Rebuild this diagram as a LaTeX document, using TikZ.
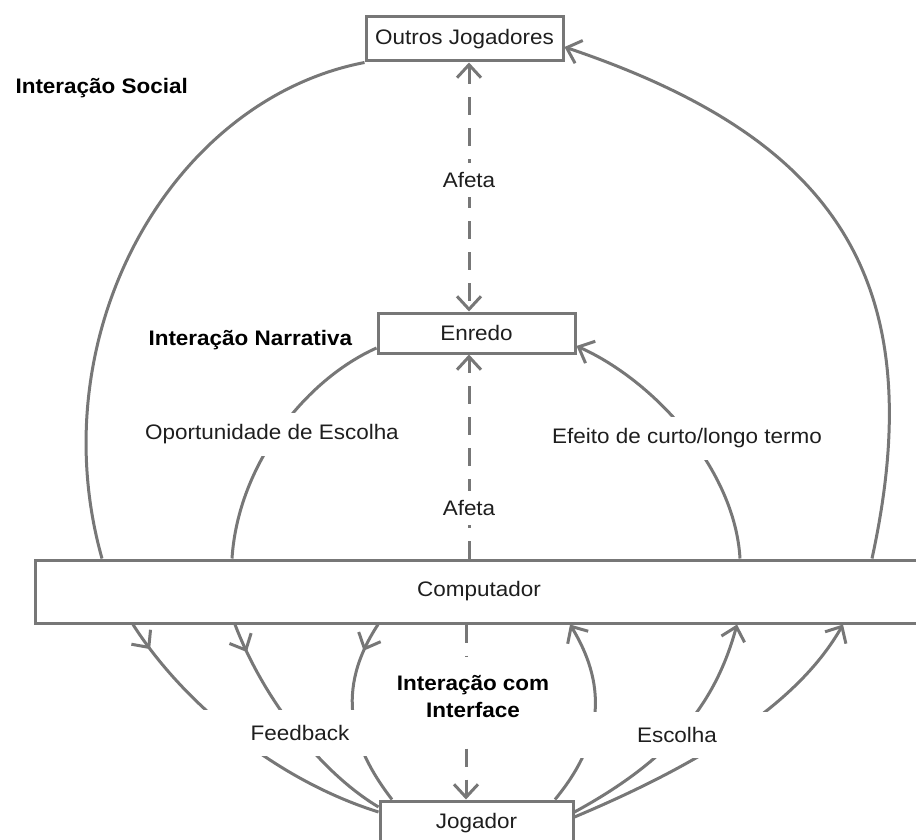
\documentclass[tikz,border=0pt]{standalone}
\usepackage{fontspec}
\setmainfont{Liberation Sans}[FakeStretch=1.07]
\usetikzlibrary{arrows.meta,calc,decorations.markings}
\definecolor{edge}{HTML}{777777}
\definecolor{ink}{HTML}{1E1E1E}

\begin{document}
\begin{tikzpicture}[x=1pt,y=-1pt,
  every node/.style={font=\fontsize{21}{27}\selectfont, text=ink},
  box/.style={draw=edge, line width=3pt, fill=white, inner sep=0pt},
  conn/.style={draw=edge, line width=3pt},
  dashconn/.style={conn, dash pattern=on 18pt off 13pt},
  lbl/.style={fill=white, inner sep=0pt},
  head/.style={font=\fontsize{21}{27}\selectfont\bfseries, text=black},
  barb/.tip={Straight Barb[length=13pt,width=24pt]},
  outward/.style={postaction={decorate},
    decoration={markings, mark=at position 30pt with {\arrow{barb}}}},
  >=barb
]
\useasboundingbox (0,0) rectangle (916,840);

% boxes
\node[box, minimum width=197pt, minimum height=44pt] (og)   at (464.5,39)  {Outros Jogadores};
\node[box, minimum width=197pt, minimum height=40pt] (en)   at (476.5,333) {Enredo};
\node[box, minimum width=888pt, minimum height=63pt] (comp) at (479,591.5) {Computador};
\node[box, minimum width=193pt, minimum height=44pt] (jog)  at (476.5,823) {Jogador};

% social loop
\draw[conn] (og.south west) .. controls (170,100) and (39,335) .. (102,0 |- comp.north);
\draw[conn,->] (872,0 |- comp.north) .. controls (935,270) and (825,135) .. (og.east |- 0,47);

% narrative loop
\draw[conn] (en.west |- 0,348) .. controls (305,380) and (238,465) .. (232,0 |- comp.north);
\draw[conn,->] (740,0 |- comp.north) .. controls (735,470) and (655,381) .. (en.east |- 0,346);

% "Afeta" links
\draw[dashconn,<->] (469,0 |- og.south) -- (469,0 |- en.north);
\draw[dashconn,->] (469,0 |- comp.north) -- (469,0 |- en.south);
\draw[dashconn,->] (466,0 |- comp.south) -- (466,0 |- jog.north);

% feedback: computer to player
\draw[conn,outward] (133,0 |- comp.south) .. controls (181,700) and (273,779) .. (jog.west |- 0,812);
\draw[conn,outward] (235,0 |- comp.south) .. controls (263,698) and (320,772) .. (jog.west |- 0,807);
\draw[conn,outward] (378,0 |- comp.south) .. controls (335,690) and (350,745) .. (392,0 |- jog.north);

% choice: player to computer
\draw[conn,->] (555,0 |- jog.north) .. controls (600,745) and (610,690) .. (570,0 |- comp.south);
\draw[conn,->] (jog.east |- 0,812) .. controls (670,760) and (715,705) .. (737,0 |- comp.south);
\draw[conn,->] (jog.east |- 0,817) .. controls (710,760) and (800,700) .. (843,0 |- comp.south);

% labels
\node[head, anchor=west] (lsoc) at (12,88) {Interação Social};
\node[head, anchor=west] (lnar) at (145,340) {Interação Narrativa};
\node[head, lbl, align=center, minimum height=80pt] (lint) at (473,697) {Interação com\\Interface};
\node[lbl, minimum width=60pt, minimum height=34pt] (af1) at (469,180) {Afeta};
\node[lbl, minimum width=60pt, minimum height=34pt] (af2) at (469,508) {Afeta};
\node[lbl, minimum height=43pt] (lop) at (272,434) {Oportunidade de Escolha};
\node[lbl, minimum height=43pt] (lef) at (687,438) {Efeito de curto/longo termo};
\node[lbl, minimum width=230pt, minimum height=46pt] (lfb) at (300,733) {Feedback};
\node[lbl, minimum width=230pt, minimum height=46pt] (les) at (677,735) {Escolha};
\end{tikzpicture}
\end{document}
